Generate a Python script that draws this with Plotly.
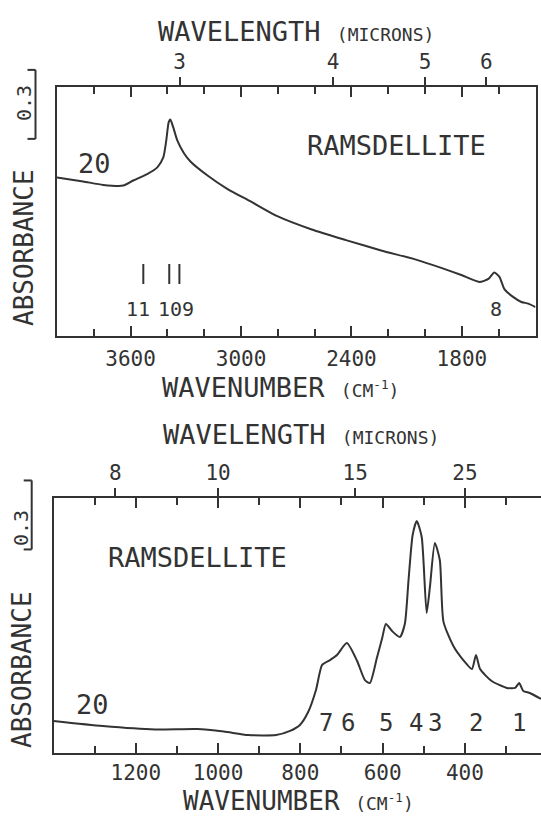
import plotly.graph_objects as go

W, H = 541, 816
INK = "#333333"
FONT = "DejaVu Sans Mono"

# ---------------- data ----------------
# Upper panel: wavenumber (cm-1) vs absorbance
top_wn = [4000, 3858, 3749, 3640, 3586, 3510, 3455, 3422, 3406, 3393, 3384, 3369,
          3347, 3311, 3275, 3182, 3073, 2948, 2806, 2616, 2430, 2239, 2054, 1912,
          1803, 1705, 1656, 1624, 1596, 1569, 1522, 1477, 1439, 1400]
top_abs = [0.689, 0.672, 0.657, 0.654, 0.676, 0.704, 0.733, 0.778, 0.852, 0.930,
           0.941, 0.909, 0.852, 0.796, 0.759, 0.698, 0.639, 0.585, 0.522, 0.463,
           0.417, 0.372, 0.333, 0.296, 0.265, 0.235, 0.248, 0.276, 0.257, 0.204,
           0.170, 0.148, 0.141, 0.126]

# Lower panel
bot_wn = [1400, 1280, 1153, 1051, 986, 927, 859, 825, 801, 781, 762, 747, 728, 711,
          687, 662, 643, 631, 614, 601, 592, 577, 558, 546, 537, 527, 517, 505, 493,
          485, 473, 461, 452, 428, 404, 383, 373, 363, 335, 298, 278, 268, 258, 242, 215]
bot_abs = [0.139, 0.117, 0.102, 0.104, 0.093, 0.078, 0.078, 0.096, 0.122, 0.178,
           0.274, 0.383, 0.404, 0.426, 0.478, 0.400, 0.317, 0.304, 0.413, 0.500,
           0.561, 0.530, 0.504, 0.561, 0.752, 0.948, 1.009, 0.939, 0.609, 0.722,
           0.913, 0.839, 0.570, 0.465, 0.404, 0.365, 0.426, 0.365, 0.313, 0.283,
           0.283, 0.304, 0.270, 0.261, 0.235]

# axis ticks
top_major = [3600, 3000, 2400, 1800]
top_minor = [3800, 3600, 3400, 3200, 3000, 2800, 2600, 2400, 2200, 2000, 1800, 1600]
top_um = [3, 4, 5, 6]
bot_major = [1200, 1000, 800, 600, 400]
bot_minor = [1300, 1200, 1100, 1000, 900, 800, 700, 600, 500, 400, 300]
bot_um = [8, 10, 15, 25]

# band markers / labels
top_band_ticks = [3531, 3390, 3335]
top_band_labels = [("11", 3560), ("109", 3352), ("8", 1613)]
bot_band_labels = [("7", 738), ("6", 685), ("5", 592), ("4", 519), ("3", 473), ("2", 373), ("1", 269)]
SCALE = 0.3

top_range = [4000, 1400]
bot_range = [1400, 215]
top_yr = [0, 249 / 230]
bot_yr = [0, 255 / 230]

def px(x):
    return x / W

def py(y):
    return 1 - y / H

top_xdom = [px(57), px(535.5)]
bot_xdom = [px(53.5), 1.0]
top_ydom = [py(336), py(87)]
bot_ydom = [py(753), py(498)]

fig = go.Figure()
fig.add_trace(go.Scatter(x=top_wn, y=top_abs, mode="lines", xaxis="x", yaxis="y",
                         line=dict(color=INK, width=2, shape="spline", smoothing=0.6),
                         showlegend=False, hoverinfo="skip"))
fig.add_trace(go.Scatter(x=bot_wn, y=bot_abs, mode="lines", xaxis="x2", yaxis="y2",
                         line=dict(color=INK, width=2, shape="spline", smoothing=0.6),
                         showlegend=False, hoverinfo="skip"))
# carrier traces so the wavelength (top) axes are drawn
fig.add_trace(go.Scatter(x=top_wn, y=top_abs, mode="lines", xaxis="x3", yaxis="y",
                         line=dict(color="rgba(0,0,0,0)", width=0), showlegend=False,
                         hoverinfo="skip"))
fig.add_trace(go.Scatter(x=bot_wn, y=bot_abs, mode="lines", xaxis="x4", yaxis="y2",
                         line=dict(color="rgba(0,0,0,0)", width=0), showlegend=False,
                         hoverinfo="skip"))

tickfont = dict(family=FONT, size=21, color=INK)

def wn_axis(dom, rng, major, minor, anchor, standoff):
    return dict(domain=dom, range=rng, anchor=anchor, showgrid=False, zeroline=False,
                showline=True, linecolor=INK, linewidth=2, mirror="allticks",
                ticks="inside", ticklen=10, tickwidth=1.5, tickcolor=INK,
                tickmode="array", tickvals=major, ticktext=[str(v) for v in major],
                tickfont=tickfont, ticklabelstandoff=standoff,
                minor=dict(ticks="inside", ticklen=7, tickwidth=1.5, tickcolor=INK,
                           tickmode="array", tickvals=minor, showgrid=False))

def um_axis(dom, rng, um, over, anchor):
    return dict(domain=dom, overlaying=over, anchor=anchor, side="top", range=rng,
                showgrid=False, zeroline=False, showline=False, ticks="outside",
                ticklen=9, tickwidth=1.5, tickcolor=INK, tickmode="array",
                tickvals=[10000.0 / u for u in um], ticktext=[str(u) for u in um],
                tickfont=tickfont, ticklabelstandoff=0)

def y_axis(dom, rng, anchor, mirror):
    return dict(domain=dom, range=rng, anchor=anchor, showgrid=False, zeroline=False,
                showline=True, linecolor=INK, linewidth=2, mirror=mirror,
                ticks="", showticklabels=False)

fig.update_layout(
    width=W, height=H, autosize=False,
    margin=dict(l=0, r=0, t=0, b=0, pad=0),
    paper_bgcolor="white", plot_bgcolor="white",
    xaxis=wn_axis(top_xdom, top_range, top_major, top_minor, "y", 3),
    yaxis=y_axis(top_ydom, top_yr, "x", True),
    xaxis2=wn_axis(bot_xdom, bot_range, bot_major, bot_minor, "y2", 0),
    yaxis2=y_axis(bot_ydom, bot_yr, "x2", False),
    xaxis3=um_axis(top_xdom, top_range, top_um, "x", "y"),
    xaxis4=um_axis(bot_xdom, bot_range, bot_um, "x2", "y2"),
)

ann = []
big = dict(family=FONT, size=27, color=INK)
mid = dict(family=FONT, size=20, color=INK)

def add(text, x, y, font, xref="paper", yref="paper", angle=0):
    ann.append(dict(text=text, x=x, y=y, xref=xref, yref=yref, showarrow=False,
                    xanchor="center", yanchor="middle", font=font, textangle=angle))

small = "font-size:18px"
wl = "WAVELENGTH <span style='%s'>(MICRONS)</span>" % small
wn = "WAVENUMBER <span style='%s'>(CM<sup>-1</sup>)</span>" % small
add(wl, px(296), py(32), big)
add(wn, px(280), py(387), big)
add(wl, px(301), py(434), big)
add(wn, px(298), py(801), dict(family=FONT, size=26, color=INK))
add("ABSORBANCE", px(24), py(248), dict(family=FONT, size=26, color=INK), angle=-90)
add("ABSORBANCE", px(22), py(670), dict(family=FONT, size=26, color=INK), angle=-90)

# in-plot labels (data coordinates)
add("RAMSDELLITE", 2158, 0.828, big, "x", "y")
add("20", 3798, 0.748, big, "x", "y")
for t, w in top_band_labels:
    add(t, w, 0.118, mid, "x", "y")
add("RAMSDELLITE", 1049, 0.852, big, "x2", "y2")
add("20", 1304, 0.209, big, "x2", "y2")
for t, w in bot_band_labels:
    add(t, w, 0.13, dict(family=FONT, size=24, color=INK), "x2", "y2")

shapes = []
for w in top_band_ticks:
    shapes.append(dict(type="line", xref="x", yref="y", x0=w, x1=w, y0=0.226, y1=0.313,
                       line=dict(color=INK, width=2)))

# absorbance scale bars (0.3 units), placed left of each frame
def ypaper(v, dom, rng):
    return dom[0] + (v - rng[0]) / (rng[1] - rng[0]) * (dom[1] - dom[0])

def scale_bar(xpx, base, dom, rng, text_xpx, text_ypx):
    y0 = ypaper(base, dom, rng)
    y1 = ypaper(base + SCALE, dom, rng)
    xb = px(xpx)
    xe = px(xpx - 8)
    for a in [dict(x0=xb, x1=xb, y0=y0, y1=y1), dict(x0=xe, x1=xb, y0=y0, y1=y0),
              dict(x0=xe, x1=xb, y0=y1, y1=y1)]:
        shapes.append(dict(type="line", xref="paper", yref="paper",
                           line=dict(color=INK, width=2), **a))
    add(str(SCALE), px(text_xpx), py(text_ypx), dict(family=FONT, size=20, color=INK), angle=-90)

scale_bar(35.5, 0.857, top_ydom, top_yr, 24, 103)
scale_bar(31.7, 0.885, bot_ydom, bot_yr, 21, 528)

fig.update_layout(annotations=ann, shapes=shapes)
fig.write_html("out.html")
